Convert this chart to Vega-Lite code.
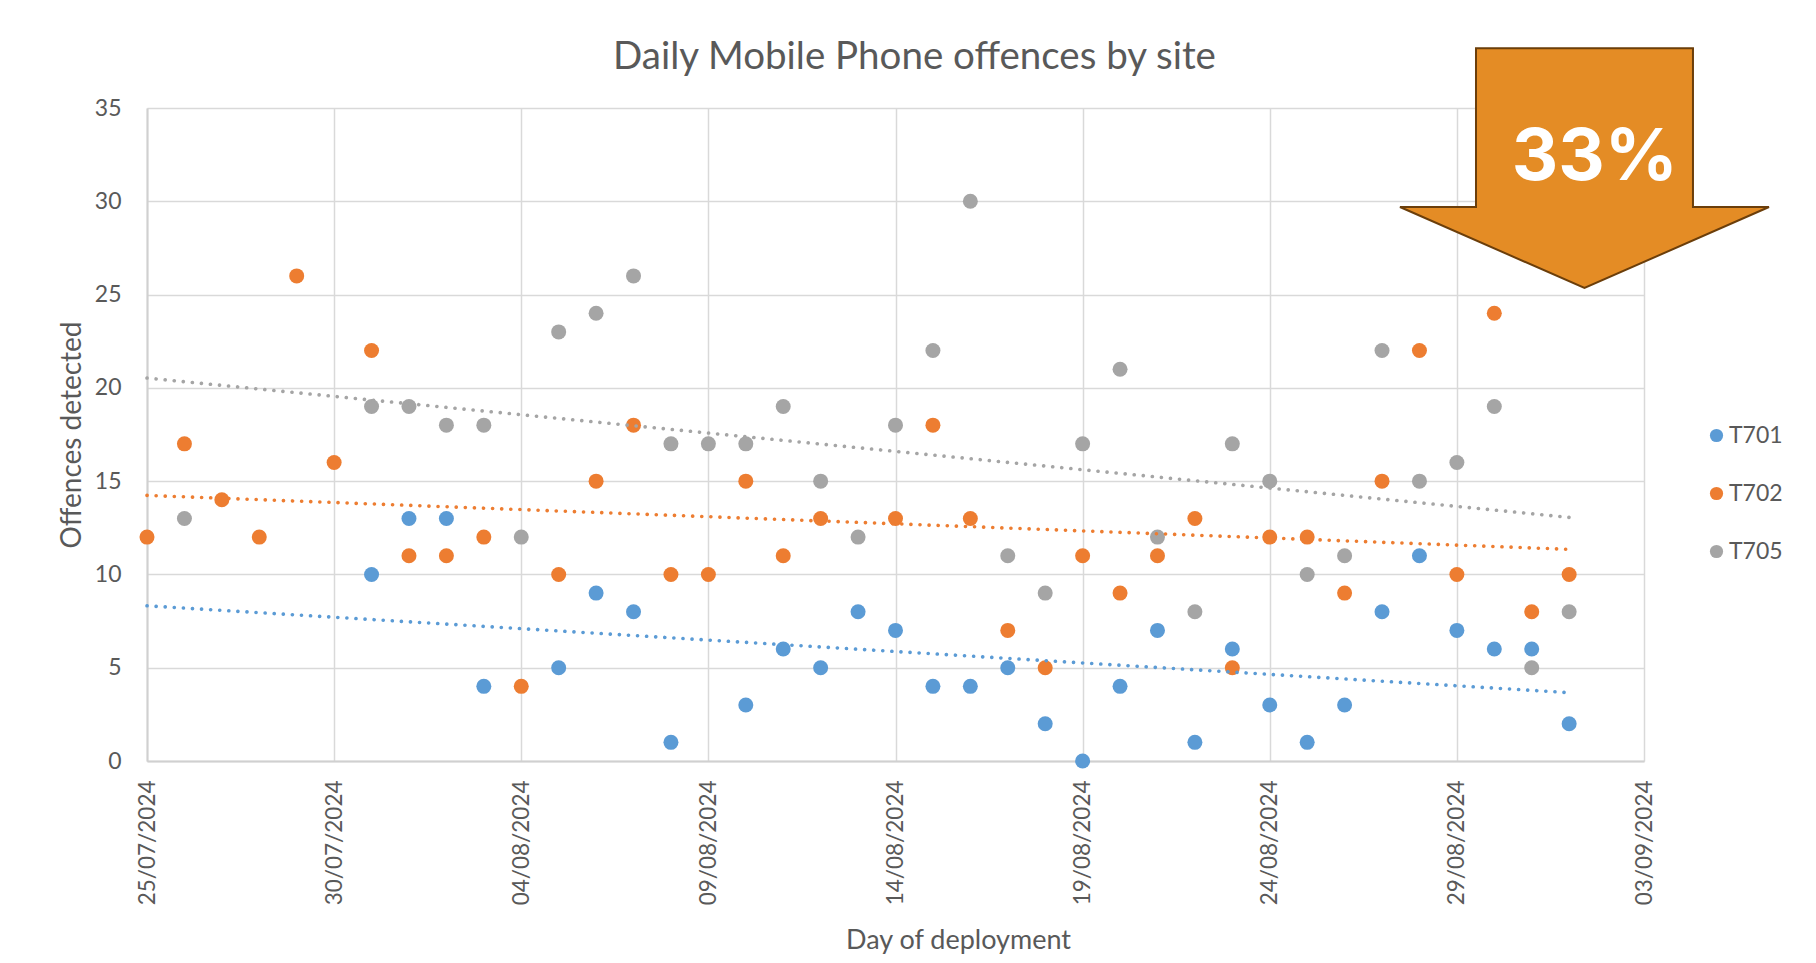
{
  "$schema": "https://vega.github.io/schema/vega-lite/v6.json",
  "autosize": {"type": "none"},
  "width": 1497,
  "height": 653,
  "padding": {"left": 147, "top": 108, "right": 172, "bottom": 202},
  "background": "white",
  "config": {"font": "Lato", "view": {"stroke": null}},
  "title": {
    "text": "Daily Mobile Phone offences by site",
    "font": "Lato",
    "fontSize": 38.5,
    "fontWeight": "normal",
    "color": "#595959",
    "anchor": "middle",
    "frame": "group",
    "dx": 19,
    "dy": 37
  },
  "datasets": {
    "offences": [
      {"date": "2024-07-31", "site": "T701", "value": 10},
      {"date": "2024-08-01", "site": "T701", "value": 13},
      {"date": "2024-08-02", "site": "T701", "value": 13},
      {"date": "2024-08-03", "site": "T701", "value": 4},
      {"date": "2024-08-05", "site": "T701", "value": 5},
      {"date": "2024-08-06", "site": "T701", "value": 9},
      {"date": "2024-08-07", "site": "T701", "value": 8},
      {"date": "2024-08-08", "site": "T701", "value": 1},
      {"date": "2024-08-10", "site": "T701", "value": 3},
      {"date": "2024-08-11", "site": "T701", "value": 6},
      {"date": "2024-08-12", "site": "T701", "value": 5},
      {"date": "2024-08-13", "site": "T701", "value": 8},
      {"date": "2024-08-14", "site": "T701", "value": 7},
      {"date": "2024-08-15", "site": "T701", "value": 4},
      {"date": "2024-08-16", "site": "T701", "value": 4},
      {"date": "2024-08-17", "site": "T701", "value": 5},
      {"date": "2024-08-18", "site": "T701", "value": 2},
      {"date": "2024-08-19", "site": "T701", "value": 0},
      {"date": "2024-08-20", "site": "T701", "value": 4},
      {"date": "2024-08-21", "site": "T701", "value": 7},
      {"date": "2024-08-22", "site": "T701", "value": 1},
      {"date": "2024-08-23", "site": "T701", "value": 6},
      {"date": "2024-08-24", "site": "T701", "value": 3},
      {"date": "2024-08-25", "site": "T701", "value": 1},
      {"date": "2024-08-26", "site": "T701", "value": 3},
      {"date": "2024-08-27", "site": "T701", "value": 8},
      {"date": "2024-08-28", "site": "T701", "value": 11},
      {"date": "2024-08-29", "site": "T701", "value": 7},
      {"date": "2024-08-30", "site": "T701", "value": 6},
      {"date": "2024-08-31", "site": "T701", "value": 6},
      {"date": "2024-09-01", "site": "T701", "value": 2},
      {"date": "2024-07-25", "site": "T702", "value": 12},
      {"date": "2024-07-26", "site": "T702", "value": 17},
      {"date": "2024-07-27", "site": "T702", "value": 14},
      {"date": "2024-07-28", "site": "T702", "value": 12},
      {"date": "2024-07-29", "site": "T702", "value": 26},
      {"date": "2024-07-30", "site": "T702", "value": 16},
      {"date": "2024-07-31", "site": "T702", "value": 22},
      {"date": "2024-08-01", "site": "T702", "value": 11},
      {"date": "2024-08-02", "site": "T702", "value": 11},
      {"date": "2024-08-03", "site": "T702", "value": 12},
      {"date": "2024-08-04", "site": "T702", "value": 4},
      {"date": "2024-08-05", "site": "T702", "value": 10},
      {"date": "2024-08-06", "site": "T702", "value": 15},
      {"date": "2024-08-07", "site": "T702", "value": 18},
      {"date": "2024-08-08", "site": "T702", "value": 10},
      {"date": "2024-08-09", "site": "T702", "value": 10},
      {"date": "2024-08-10", "site": "T702", "value": 15},
      {"date": "2024-08-11", "site": "T702", "value": 11},
      {"date": "2024-08-12", "site": "T702", "value": 13},
      {"date": "2024-08-14", "site": "T702", "value": 13},
      {"date": "2024-08-15", "site": "T702", "value": 18},
      {"date": "2024-08-16", "site": "T702", "value": 13},
      {"date": "2024-08-17", "site": "T702", "value": 7},
      {"date": "2024-08-18", "site": "T702", "value": 5},
      {"date": "2024-08-19", "site": "T702", "value": 11},
      {"date": "2024-08-20", "site": "T702", "value": 9},
      {"date": "2024-08-21", "site": "T702", "value": 11},
      {"date": "2024-08-22", "site": "T702", "value": 13},
      {"date": "2024-08-23", "site": "T702", "value": 5},
      {"date": "2024-08-24", "site": "T702", "value": 12},
      {"date": "2024-08-25", "site": "T702", "value": 12},
      {"date": "2024-08-26", "site": "T702", "value": 9},
      {"date": "2024-08-27", "site": "T702", "value": 15},
      {"date": "2024-08-28", "site": "T702", "value": 22},
      {"date": "2024-08-29", "site": "T702", "value": 10},
      {"date": "2024-08-30", "site": "T702", "value": 24},
      {"date": "2024-08-31", "site": "T702", "value": 8},
      {"date": "2024-09-01", "site": "T702", "value": 10},
      {"date": "2024-07-26", "site": "T705", "value": 13},
      {"date": "2024-07-31", "site": "T705", "value": 19},
      {"date": "2024-08-01", "site": "T705", "value": 19},
      {"date": "2024-08-02", "site": "T705", "value": 18},
      {"date": "2024-08-03", "site": "T705", "value": 18},
      {"date": "2024-08-04", "site": "T705", "value": 12},
      {"date": "2024-08-05", "site": "T705", "value": 23},
      {"date": "2024-08-06", "site": "T705", "value": 24},
      {"date": "2024-08-07", "site": "T705", "value": 26},
      {"date": "2024-08-08", "site": "T705", "value": 17},
      {"date": "2024-08-09", "site": "T705", "value": 17},
      {"date": "2024-08-10", "site": "T705", "value": 17},
      {"date": "2024-08-11", "site": "T705", "value": 19},
      {"date": "2024-08-12", "site": "T705", "value": 15},
      {"date": "2024-08-13", "site": "T705", "value": 12},
      {"date": "2024-08-14", "site": "T705", "value": 18},
      {"date": "2024-08-15", "site": "T705", "value": 22},
      {"date": "2024-08-16", "site": "T705", "value": 30},
      {"date": "2024-08-17", "site": "T705", "value": 11},
      {"date": "2024-08-18", "site": "T705", "value": 9},
      {"date": "2024-08-19", "site": "T705", "value": 17},
      {"date": "2024-08-20", "site": "T705", "value": 21},
      {"date": "2024-08-21", "site": "T705", "value": 12},
      {"date": "2024-08-22", "site": "T705", "value": 8},
      {"date": "2024-08-23", "site": "T705", "value": 17},
      {"date": "2024-08-24", "site": "T705", "value": 15},
      {"date": "2024-08-25", "site": "T705", "value": 10},
      {"date": "2024-08-26", "site": "T705", "value": 11},
      {"date": "2024-08-27", "site": "T705", "value": 22},
      {"date": "2024-08-28", "site": "T705", "value": 15},
      {"date": "2024-08-29", "site": "T705", "value": 16},
      {"date": "2024-08-30", "site": "T705", "value": 19},
      {"date": "2024-08-31", "site": "T705", "value": 5},
      {"date": "2024-09-01", "site": "T705", "value": 8}
    ],
    "arrow": [{"date": "2024-09-01T09:50:00Z", "value": 31.78}],
    "callout": [{"date": "2024-09-01T16:30:00Z", "value": 32.3, "label": "33%"}]
  },
  "encoding": {
    "x": {
      "field": "date",
      "type": "temporal",
      "scale": {
        "type": "utc",
        "domain": [
          {"year": 2024, "month": 7, "date": 25, "utc": true},
          {"year": 2024, "month": 9, "date": 3, "utc": true}
        ],
        "nice": false
      },
      "axis": {
        "values": [
          {"year": 2024, "month": 7, "date": 25, "utc": true},
          {"year": 2024, "month": 7, "date": 30, "utc": true},
          {"year": 2024, "month": 8, "date": 4, "utc": true},
          {"year": 2024, "month": 8, "date": 9, "utc": true},
          {"year": 2024, "month": 8, "date": 14, "utc": true},
          {"year": 2024, "month": 8, "date": 19, "utc": true},
          {"year": 2024, "month": 8, "date": 24, "utc": true},
          {"year": 2024, "month": 8, "date": 29, "utc": true},
          {"year": 2024, "month": 9, "date": 3, "utc": true}
        ],
        "labelExpr": "utcFormat(datum.value, '%d/%m/%Y')",
        "labelAngle": -90,
        "labelFont": "Lato",
        "labelFontSize": 22.5,
        "labelColor": "#595959",
        "labelPadding": 19,
        "labelFlush": false,
        "labelOverlap": false,
        "ticks": false,
        "domainColor": "#D0D0D0",
        "domainWidth": 2,
        "grid": true,
        "gridColor": "#D9D9D9",
        "gridWidth": 1.5,
        "title": "Day of deployment",
        "titleFont": "Lato",
        "titleFontSize": 27,
        "titleFontWeight": "normal",
        "titleColor": "#595959",
        "titleX": 811,
        "titleY": 187,
        "titleAlign": "center",
        "titleBaseline": "alphabetic"
      }
    },
    "y": {
      "field": "value",
      "type": "quantitative",
      "scale": {"domain": [0, 35], "nice": false, "zero": true},
      "axis": {
        "values": [0, 5, 10, 15, 20, 25, 30, 35],
        "labelFont": "Lato",
        "labelFontSize": 23,
        "labelColor": "#595959",
        "labelPadding": 26,
        "ticks": false,
        "domainColor": "#D0D0D0",
        "domainWidth": 2,
        "grid": true,
        "gridColor": "#D9D9D9",
        "gridWidth": 1.5,
        "title": "Offences detected",
        "titleFont": "Lato",
        "titleFontSize": 28,
        "titleFontWeight": "normal",
        "titleColor": "#595959",
        "titleAngle": -90,
        "titleX": -67,
        "titleY": 326.5,
        "titleAlign": "center",
        "titleBaseline": "alphabetic"
      }
    }
  },
  "layer": [
    {
      "data": {"name": "offences"},
      "mark": {"type": "circle", "size": 225, "opacity": 1},
      "encoding": {
        "color": {
          "field": "site",
          "type": "nominal",
          "scale": {"domain": ["T701", "T702", "T705"], "range": ["#5B9BD5", "#ED7D31", "#A5A5A5"]},
          "legend": {
            "orient": "none",
            "legendX": 1558,
            "legendY": 316,
            "title": null,
            "padding": 0,
            "labelFont": "Lato",
            "labelFontSize": 23,
            "labelColor": "#595959",
            "symbolSize": 175,
            "symbolType": "circle",
            "symbolStrokeWidth": 0,
            "rowPadding": 34,
            "labelOffset": 1
          }
        }
      }
    },
    {
      "data": {"name": "offences"},
      "transform": [
        {"regression": "value", "on": "date", "groupby": ["site"], "extent": [1721865600000, 1725148800000]}
      ],
      "mark": {"type": "line", "strokeDash": [0.1, 9], "strokeCap": "round", "strokeWidth": 3.6},
      "encoding": {
        "color": {"field": "site", "type": "nominal", "legend": null}
      }
    },
    {
      "data": {"name": "arrow"},
      "mark": {
        "type": "point",
        "shape": "M -0.588 -0.65 L 0.588 -0.65 L 0.588 0.211 L 1 0.211 L 0 0.65 L -1 0.211 L -0.588 0.211 Z",
        "size": 136161,
        "filled": true,
        "fill": "#E48C25",
        "stroke": "#6B3E0A",
        "strokeWidth": 2,
        "opacity": 1
      }
    },
    {
      "data": {"name": "callout"},
      "mark": {
        "type": "text",
        "font": "Inter",
        "fontSize": 72,
        "fontWeight": "bold",
        "color": "white",
        "align": "center",
        "baseline": "middle"
      },
      "encoding": {"text": {"field": "label", "type": "nominal"}}
    }
  ]
}
